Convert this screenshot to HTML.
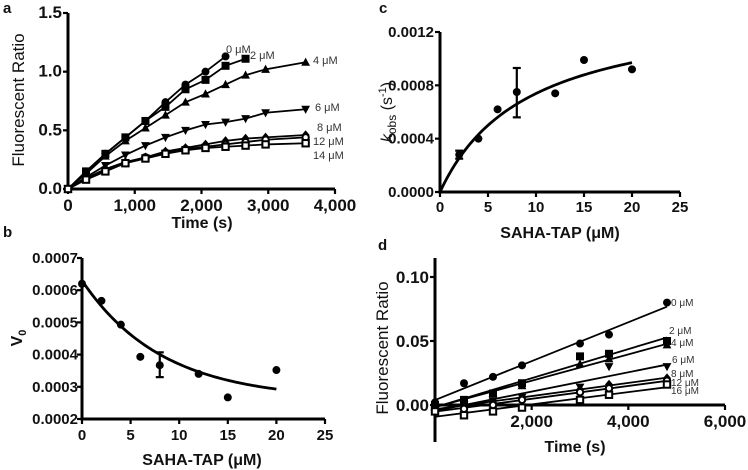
<!DOCTYPE html>
<html><head><meta charset="utf-8"><style>
html,body{margin:0;padding:0;background:#fff;}
svg{display:block;font-family:"Liberation Sans",Arial,sans-serif;}
.tk{font-weight:bold;font-size:17px;fill:#111;}
.tks{font-weight:bold;font-size:15px;fill:#111;}
.ttl{font-weight:bold;font-size:16px;fill:#111;}
.lab{font-size:11px;fill:#333;}
.labs{font-size:10px;fill:#333;}
.pl{font-weight:bold;font-size:15px;fill:#111;}
</style></head><body>
<svg id="fig" width="748" height="470" viewBox="0 0 748 470"></svg>
<script>
// ---------- Panel a data ----------
const aTimes=[0,270,560,860,1160,1460,1760,2060,2360,2660,2960,3560];
const aConc=['0 μM','2 μM','4 μM','6 μM','8 μM','12 μM','14 μM'];
const a0=[0,0.15,0.30,0.44,0.58,0.74,0.89,1.00,1.13];
const a2=[0,0.15,0.30,0.44,0.58,0.70,0.85,0.93,1.05,1.11];
const a4=[0,0.13,0.28,0.41,0.52,0.63,0.74,0.81,0.89,0.97,1.02,1.08];
const a6=[0,0.10,0.20,0.29,0.37,0.44,0.50,0.55,0.57,0.60,0.65,0.68];
const a8=[0,0.09,0.17,0.23,0.27,0.32,0.35,0.38,0.41,0.43,0.44,0.46];
const a12=[0,0.09,0.16,0.22,0.27,0.31,0.34,0.36,0.38,0.40,0.42,0.44];
const a14=[0,0.08,0.15,0.22,0.26,0.30,0.33,0.35,0.36,0.37,0.38,0.39];
const aXTicks=[0,1000,2000,3000,4000];
const aXTickLabels=['0','1,000','2,000','3,000','4,000'];
const aYTicks=[0,0.5,1.0,1.5];
const aYTickLabels=['0.0','0.5','1.0','1.5'];
// ---------- Panel b data ----------
const bConc=[0,2,4,6,8,12,15,20];
const bV0=[0.00062,0.000567,0.000493,0.000393,0.000367,0.00034,0.000267,0.000352];
const bErrLo=[null,null,null,null,0.00033,null,null,null];
const bErrHi=[null,null,null,null,0.000407,null,null,null];
const bFit=[0.00026,0.00037,0.121]; // plateau, span, k
const bXTicks=[0,5,10,15,20,25];
const bYTicks=[0.0002,0.0003,0.0004,0.0005,0.0006,0.0007];
const bYTickLabels=['0.0002','0.0003','0.0004','0.0005','0.0006','0.0007'];
// ---------- Panel c data ----------
const cConc=[2,4,6,8,12,15,20];
const cKobs=[0.00028,0.0004,0.00062,0.00075,0.00074,0.00099,0.00092];
const cErrLo=[0.00025,null,null,0.00056,null,null,null];
const cErrHi=[0.00031,null,null,0.00093,null,null,null];
const cFit=[0.001413,9.13]; // kmax, K
const cXTicks=[0,5,10,15,20,25];
const cYTicks=[0,0.0004,0.0008,0.0012];
const cYTickLabels=['0.0000','0.0004','0.0008','0.0012'];
// ---------- Panel d data ----------
const dTimes=[0,600,1200,1800,3000,3600,4800];
const dConc=['0 μM','2 μM','4 μM','6 μM','8 μM','12 μM','16 μM'];
const d0=[0.002,0.017,0.022,0.031,0.048,0.055,0.080];
const d2=[0.000,0.004,0.009,0.017,0.038,0.040,0.050];
const d4=[0.001,0.003,0.009,0.015,0.032,0.036,0.047];
const d6=[-0.002,0.000,0.003,0.006,0.014,0.030,0.030];
const d8=[-0.003,0.000,0.002,0.006,0.012,0.016,0.021];
const d12=[-0.004,-0.003,0.000,0.004,0.010,0.013,0.019];
const d16=[-0.005,-0.008,-0.005,-0.002,0.004,0.008,0.016];
const dXTicks=[0,2000,4000,6000];
const dXTickLabels=['','2,000','4,000','6,000'];
const dYTicks=[0,0.05,0.10];
const dYTickLabels=['0.00','0.05','0.10'];

const NS='http://www.w3.org/2000/svg';
const svg=document.getElementById('fig');
function el(tag,attrs,parent,text){const e=document.createElementNS(NS,tag);for(const k in attrs)e.setAttribute(k,attrs[k]);if(text!==undefined)e.textContent=text;(parent||svg).appendChild(e);return e;}
function lin(d0,d1,r0,r1){return v=>r0+(v-d0)*(r1-r0)/(d1-d0);}
function marker(g,type,x,y,name){
  let m;const s=4;
  if(type==='circle')m=el('circle',{cx:x,cy:y,r:s,fill:'#000'},g);
  else if(type==='ocircle')m=el('circle',{cx:x,cy:y,r:s-0.8,fill:'#fff',stroke:'#000','stroke-width':2},g);
  else if(type==='square')m=el('rect',{x:x-s,y:y-s,width:2*s,height:2*s,fill:'#000'},g);
  else if(type==='osquare')m=el('rect',{x:x-s+0.8,y:y-s+0.8,width:2*s-1.6,height:2*s-1.6,fill:'#fff',stroke:'#000','stroke-width':2},g);
  else if(type==='tri')m=el('polygon',{points:`${x},${y-s-0.7} ${x-s-0.4},${y+s-0.5} ${x+s+0.4},${y+s-0.5}`,fill:'#000'},g);
  else if(type==='tridown')m=el('polygon',{points:`${x},${y+s+0.7} ${x-s-0.4},${y-s+0.5} ${x+s+0.4},${y-s+0.5}`,fill:'#000'},g);
  else m=el('polygon',{points:`${x},${y-s-0.8} ${x+s},${y} ${x},${y+s+0.8} ${x-s},${y}`,fill:'#000'},g);
  
  
}
function axes(g,X,Y,xt,xtl,yt,ytl,xr,yr,cls,xLabY,yLabX){
  el('line',{x1:X(xr[0]),y1:Y(yr[0]),x2:X(xr[0]),y2:Y(yr[1]),stroke:'#000','stroke-width':3},g);
  el('line',{x1:X(xr[0])-1.5,y1:Y(yr[0]),x2:X(xr[1]),y2:Y(yr[0]),stroke:'#000','stroke-width':3},g);
  xt.forEach((v,i)=>{el('line',{x1:X(v),y1:Y(yr[0]),x2:X(v),y2:Y(yr[0])+5,stroke:'#000','stroke-width':2.2},g);
    const t=el('text',{x:X(v),y:xLabY,'text-anchor':'middle',class:cls},g,xtl[i]);});
  yt.forEach((v,i)=>{el('line',{x1:X(xr[0])-5,y1:Y(v),x2:X(xr[0]),y2:Y(v),stroke:'#000','stroke-width':2.2},g);
    const t=el('text',{x:yLabX,y:Y(v)+5,'text-anchor':'end',class:cls},g,ytl[i]);});
}
function poly(g,pts,w){el('polyline',{points:pts.map(p=>p.join(',')).join(' '),fill:'none',stroke:'#000','stroke-width':w||1.8},g);}

// ===== Panel a =====
{
const g=el('g',{});
const X=lin(0,4000,68,335),Y=lin(0,1.5,189,13);
el('text',{x:3,y:13,class:'pl'},g,'a');
axes(g,X,Y,aXTicks,aXTickLabels,aYTicks,aYTickLabels,[0,4000],[0,1.5],'tk',211,62);
const series=[[a0,'circle'],[a2,'square'],[a4,'tri'],[a6,'tridown'],[a8,'diamond'],[a12,'ocircle'],[a14,'osquare']];
series.forEach(([ys,mk],si)=>{
  const sg=el('g',{},g);
  poly(sg,ys.map((v,i)=>[X(aTimes[i]),Y(v)]));
  ys.forEach((v,i)=>marker(sg,mk,X(aTimes[i]),Y(v),'point'));
});
const labPos=[[226,53],[250,59],[313,64],[315,111],[317,131],[313,145],[313,159]];
aConc.forEach((c,i)=>el('text',{x:labPos[i][0],y:labPos[i][1],class:'lab'},g,c));
el('text',{x:202,y:228,'text-anchor':'middle',class:'ttl'},g,'Time (s)');
el('text',{transform:'translate(24,100) rotate(-90)','text-anchor':'middle',style:'font-size:17px;fill:#111'},g,'Fluorescent Ratio');
}
// ===== Panel b =====
{
const g=el('g',{});
const X=lin(0,25,82,325),Y=lin(0.0002,0.0007,419,258);
el('text',{x:3,y:237,class:'pl'},g,'b');
axes(g,X,Y,bXTicks,bXTicks.map(String),bYTicks,bYTickLabels,[0,25],[0.0002,0.0007],'tks',440,78);
const pts=[];for(let x=0;x<=20;x+=0.25)pts.push([X(x),Y(bFit[0]+bFit[1]*Math.exp(-bFit[2]*x))]);
poly(g,pts,2.8);
bConc.forEach((c,i)=>{marker(g,'circle',X(c),Y(bV0[i]),'data-point');
  if(bErrLo[i]!==null){el('line',{x1:X(c),y1:Y(bErrLo[i]),x2:X(c),y2:Y(bErrHi[i]),stroke:'#000','stroke-width':2.2},g);
  [bErrLo[i],bErrHi[i]].forEach(v=>el('line',{x1:X(c)-4,y1:Y(v),x2:X(c)+4,y2:Y(v),stroke:'#000','stroke-width':2.2},g));}});
el('text',{x:202,y:465,'text-anchor':'middle',class:'ttl'},g,'SAHA-TAP (μM)');
const yl=el('text',{transform:'translate(22,338) rotate(-90)','text-anchor':'middle',style:'font-size:16px;font-weight:bold;fill:#111'},g,'V');
el('tspan',{dy:4,style:'font-size:11px'},yl,'0');
}
// ===== Panel c =====
{
const g=el('g',{});
const X=lin(0,25,440,680),Y=lin(0,0.0012,192,32);
el('text',{x:379,y:13,class:'pl'},g,'c');
axes(g,X,Y,cXTicks,cXTicks.map(String),cYTicks,cYTickLabels,[0,25],[0,0.0012],'tks',212,434);
const pts=[];for(let x=0;x<=20;x+=0.25)pts.push([X(x),Y(cFit[0]*x/(cFit[1]+x))]);
poly(g,pts,2.8);
cConc.forEach((c,i)=>{marker(g,'circle',X(c),Y(cKobs[i]),'data-point');
  if(cErrLo[i]!==null){el('line',{x1:X(c),y1:Y(cErrLo[i]),x2:X(c),y2:Y(cErrHi[i]),stroke:'#000','stroke-width':2.2},g);
  [cErrLo[i],cErrHi[i]].forEach(v=>el('line',{x1:X(c)-4,y1:Y(v),x2:X(c)+4,y2:Y(v),stroke:'#000','stroke-width':2.2},g));}});
el('text',{x:560,y:238,'text-anchor':'middle',class:'ttl'},g,'SAHA-TAP (μM)');
const yl=el('text',{transform:'translate(392,112) rotate(-90)','text-anchor':'middle',style:'font-size:16px;fill:#111'},g);
el('tspan',{style:'font-style:italic'},yl,'k');
el('tspan',{dy:4,style:'font-size:12px'},yl,'obs');
el('tspan',{dy:-4},yl,' (s');
el('tspan',{dy:-6,style:'font-size:11px'},yl,'-1');
el('tspan',{dy:6},yl,')');
}
// ===== Panel d =====
{
const g=el('g',{});
const X=lin(0,6000,435,725),Y=lin(0,0.05,405,341);
el('text',{x:378,y:250,class:'pl'},g,'d');
el('line',{x1:435,y1:258,x2:435,y2:442,stroke:'#000','stroke-width':3},g);
el('line',{x1:434,y1:405,x2:725,y2:405,stroke:'#000','stroke-width':3},g);
dXTicks.forEach((v,i)=>{el('line',{x1:X(v),y1:405,x2:X(v),y2:410,stroke:'#000','stroke-width':2.2},g);
  el('text',{x:X(v),y:427,'text-anchor':'middle',class:'tk'},g,dXTickLabels[i]);});
dYTicks.forEach((v,i)=>{el('line',{x1:430,y1:Y(v),x2:435,y2:Y(v),stroke:'#000','stroke-width':2.2},g);
  el('text',{x:429,y:Y(v)+6,'text-anchor':'end',class:'tk'},g,dYTickLabels[i]);});
const series=[[d0,'circle'],[d2,'square'],[d4,'tri'],[d6,'tridown'],[d8,'diamond'],[d12,'ocircle'],[d16,'osquare']];
series.forEach(([ys,mk],si)=>{
  const sg=el('g',{},g);
  const n=ys.length;let sx=0,sy=0,sxx=0,sxy=0;
  ys.forEach((v,i)=>{const t=dTimes[i];sx+=t;sy+=v;sxx+=t*t;sxy+=t*v;});
  const m=(n*sxy-sx*sy)/(n*sxx-sx*sx),b=(sy-m*sx)/n;
  const tEnd=dTimes[n-1];
  el('line',{x1:X(0),y1:Y(b),x2:X(tEnd),y2:Y(b+m*tEnd),stroke:'#000','stroke-width':1.8},sg);
  ys.forEach((v,i)=>marker(sg,mk,X(dTimes[i]),Y(v),'point'));
});
const labPos=[[671,306],[669,334],[671,346],[672,363],[671,377],[671,386],[671,394]];
dConc.forEach((c,i)=>el('text',{x:labPos[i][0],y:labPos[i][1],class:'labs'},g,c));
el('text',{x:575,y:452,'text-anchor':'middle',class:'ttl'},g,'Time (s)');
el('text',{transform:'translate(388,348) rotate(-90)','text-anchor':'middle',style:'font-size:17px;fill:#111'},g,'Fluorescent Ratio');
}
</script>
</body></html>
